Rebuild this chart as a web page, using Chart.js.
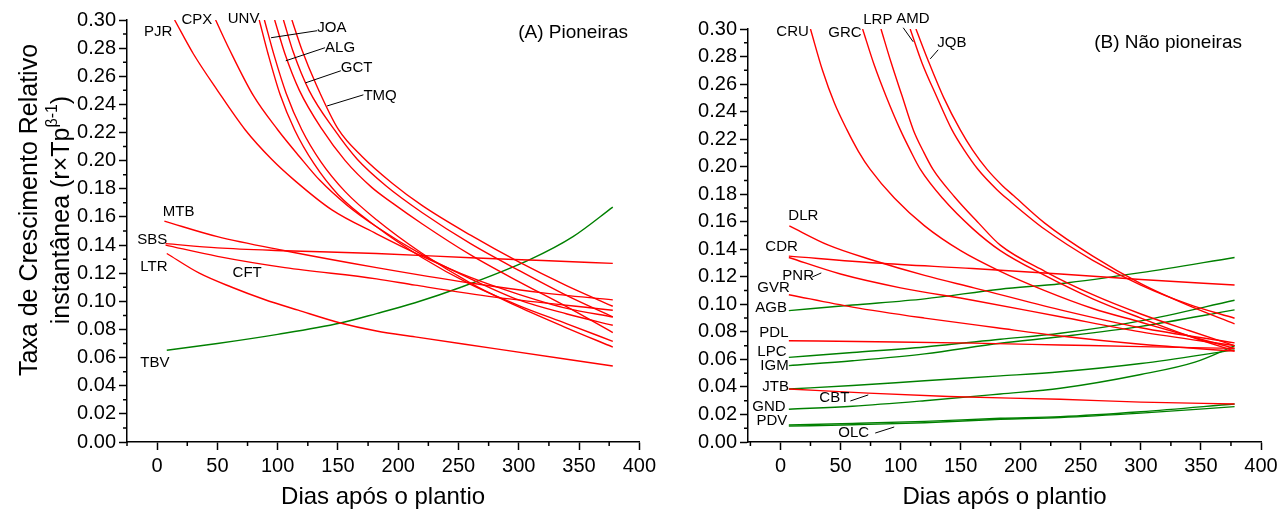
<!DOCTYPE html>
<html>
<head>
<meta charset="utf-8">
<script src="https://cdn.jsdelivr.net/npm/chart.js@4"></script>
<style>
  html, body { margin: 0; padding: 0; background: #fff; }
  #wrap { position: relative; width: 1283px; height: 516px; }
  canvas { position: absolute; top: 0; }
</style>
</head>
<body>
<div id="wrap">
  <canvas id="chartA" width="660" height="516" style="left:0"></canvas>
  <canvas id="chartB" width="623" height="516" style="left:660px"></canvas>
</div>
<script>
// ---- tick labels ----
const xTicks = [0, 50, 100, 150, 200, 250, 300, 350, 400];
const yTicks = [0, 0.02, 0.04, 0.06, 0.08, 0.10, 0.12, 0.14, 0.16, 0.18, 0.20, 0.22, 0.24, 0.26, 0.28, 0.30];

// ---- (A) Pioneiras : [dia, taxa] ----
const pjr = [[14.5, 0.30], [30, 0.276], [50, 0.250], [73, 0.222], [95, 0.201], [114, 0.186], [145, 0.165], [182, 0.148], [220, 0.132], [260, 0.117], [300, 0.105], [340, 0.095], [378, 0.0889]];
const cpx = [[48.5, 0.30], [60, 0.279], [80, 0.246], [100, 0.222], [118, 0.203], [135, 0.186], [158, 0.168], [182, 0.153], [220, 0.133], [260, 0.116], [300, 0.101], [340, 0.091], [378, 0.083]];
const unv = [[84.7, 0.30], [92, 0.276], [102, 0.247], [114, 0.222], [130, 0.198], [150, 0.176], [182, 0.153], [220, 0.131], [260, 0.112], [300, 0.097], [340, 0.084], [378, 0.0716]];
const joa = [[89, 0.30], [97, 0.275], [107, 0.248], [120, 0.222], [136, 0.199], [156, 0.178], [182, 0.158], [220, 0.134], [260, 0.113], [300, 0.096], [340, 0.081], [378, 0.0675]];
const alg = [[97.5, 0.30], [106, 0.276], [118, 0.250], [137, 0.222], [156, 0.200], [178, 0.181], [195, 0.170], [220, 0.155], [260, 0.133], [300, 0.114], [340, 0.096], [378, 0.0778]];
const gct = [[104.8, 0.30], [113, 0.277], [126, 0.250], [147, 0.222], [166, 0.201], [190, 0.182], [220, 0.163], [260, 0.141], [300, 0.122], [340, 0.104], [378, 0.0889]];
const tmq = [[111.8, 0.30], [120, 0.279], [132, 0.254], [150.5, 0.222], [170, 0.203], [195, 0.184], [220, 0.168], [260, 0.147], [300, 0.128], [340, 0.111], [378, 0.0965]];
const mtb = [[6, 0.157], [50, 0.146], [106, 0.136], [182, 0.124], [260, 0.113], [320, 0.106], [378, 0.101]];
const sbs = [[7, 0.141], [50, 0.138], [106, 0.136], [182, 0.134], [260, 0.131], [320, 0.129], [378, 0.127]];
const cft = [[7, 0.140], [50, 0.132], [106, 0.124], [182, 0.116], [214, 0.1115], [280, 0.103], [378, 0.0937]];
const ltr = [[8, 0.134], [35, 0.120], [62, 0.110], [89, 0.1013], [117, 0.0937], [152, 0.0846], [182, 0.0789], [214, 0.0747], [280, 0.0664], [378, 0.054]];
const tbv = [[8, 0.0652], [50, 0.070], [100, 0.0765], [152, 0.0846], [182, 0.0913], [214, 0.099], [252, 0.110], [310, 0.130], [345, 0.146], [378, 0.167]];

// ---- (B) Não pioneiras : [dia, taxa] ----
const cru = [[25, 0.30], [35, 0.270], [45, 0.246], [55.4, 0.2267], [65, 0.211], [74.7, 0.198], [95, 0.177], [120, 0.157], [150, 0.139], [183, 0.124], [220, 0.110], [260, 0.097], [300, 0.087], [340, 0.077], [378, 0.068]];
const grc = [[68.4, 0.30], [78, 0.274], [88, 0.251], [99.8, 0.2267], [108, 0.212], [116.5, 0.198], [135, 0.177], [160, 0.155], [183, 0.139], [220, 0.121], [260, 0.104], [300, 0.090], [340, 0.077], [378, 0.066]];
const lrp = [[83.7, 0.30], [92, 0.276], [101, 0.252], [110.6, 0.2267], [119, 0.211], [127, 0.198], [145, 0.178], [165, 0.159], [183, 0.143], [220, 0.124], [260, 0.107], [300, 0.093], [340, 0.081], [378, 0.070]];
const amd = [[108, 0.30], [118, 0.275], [130, 0.251], [142.8, 0.2267], [153, 0.212], [164, 0.1985], [180, 0.1835], [191, 0.175], [220, 0.1545], [260, 0.132], [300, 0.114], [340, 0.100], [378, 0.0899]];
const jqb = [[112.8, 0.30], [123, 0.277], [136, 0.250], [149.7, 0.2267], [160, 0.212], [172, 0.198], [185, 0.186], [194, 0.179], [220, 0.159], [260, 0.135], [300, 0.115], [340, 0.099], [378, 0.0858]];
const dlr = [[7.4, 0.157], [40, 0.143], [77, 0.132], [120, 0.121], [161, 0.112], [233, 0.096], [300, 0.083], [378, 0.072]];
const cdr = [[7, 0.135], [80, 0.130], [160, 0.126], [233, 0.122], [300, 0.118], [378, 0.114]];
const pnr = [[7, 0.134], [50, 0.122], [100, 0.112], [160, 0.103], [233, 0.091], [300, 0.080], [378, 0.070]];
const gvr = [[7, 0.107], [60, 0.098], [120, 0.090], [180, 0.083], [233, 0.077], [300, 0.071], [378, 0.066]];
const pdl = [[7, 0.0736], [80, 0.0728], [160, 0.0718], [233, 0.0705], [300, 0.0693], [378, 0.068]];
const cbt = [[7, 0.0385], [73, 0.0355], [140, 0.033], [233, 0.031], [300, 0.029], [378, 0.0276]];
const agb = [[7, 0.0954], [60, 0.0995], [120, 0.104], [183, 0.111], [233, 0.115], [300, 0.123], [378, 0.134]];
const lpc = [[7, 0.0615], [60, 0.065], [120, 0.069], [183, 0.0746], [233, 0.079], [300, 0.088], [378, 0.103]];
const igm = [[7, 0.0555], [60, 0.059], [120, 0.064], [183, 0.0717], [233, 0.0765], [300, 0.084], [378, 0.096]];
const jtb = [[7, 0.0385], [60, 0.041], [120, 0.0445], [183, 0.048], [233, 0.051], [300, 0.057], [378, 0.0669]];
const gnd = [[7, 0.0238], [60, 0.026], [120, 0.030], [183, 0.0349], [233, 0.039], [300, 0.049], [345, 0.058], [378, 0.0698]];
const pdv = [[7, 0.0124], [60, 0.0135], [120, 0.015], [183, 0.0172], [233, 0.0184], [300, 0.022], [378, 0.0276]];
const olc = [[7, 0.0115], [60, 0.0125], [120, 0.014], [183, 0.0165], [233, 0.0178], [300, 0.021], [378, 0.0257]];

const seriesA = [
  ['PJR', pjr, 'r'], ['CPX', cpx, 'r'], ['UNV', unv, 'r'], ['JOA', joa, 'r'], ['ALG', alg, 'r'],
  ['GCT', gct, 'r'], ['TMQ', tmq, 'r'], ['MTB', mtb, 'r'], ['SBS', sbs, 'r'], ['CFT', cft, 'r'],
  ['LTR', ltr, 'r'], ['TBV', tbv, 'g']
];
const seriesB = [
  ['CRU', cru, 'r'], ['GRC', grc, 'r'], ['LRP', lrp, 'r'], ['AMD', amd, 'r'], ['JQB', jqb, 'r'],
  ['DLR', dlr, 'r'], ['CDR', cdr, 'r'], ['PNR', pnr, 'r'], ['GVR', gvr, 'r'], ['PDL', pdl, 'r'],
  ['CBT', cbt, 'r'], ['AGB', agb, 'g'], ['LPC', lpc, 'g'], ['IGM', igm, 'g'], ['JTB', jtb, 'g'],
  ['GND', gnd, 'g'], ['PDV', pdv, 'g'], ['OLC', olc, 'g']
];

// curve names written on the plot: [text, day, rate, leader from [day, rate], leader to [day, rate]]
const labelsA = [
  ['PJR', -10.8, 0.2917], ['CPX', 20.2, 0.3002], ['UNV', 58.6, 0.3009],
  ['JOA', 132.8, 0.2945, [94.5, 0.2874], [132.8, 0.2924]],
  ['ALG', 139.3, 0.2803, [106.7, 0.2710], [139.3, 0.2803]],
  ['GCT', 152.4, 0.2660, [123, 0.2553], [152.4, 0.2639]],
  ['TMQ', 171.1, 0.2461, [141, 0.2389], [171.1, 0.2468]],
  ['MTB', 4.7, 0.1635], ['SBS', -16.5, 0.1435], ['LTR', -14, 0.1243], ['CFT', 62.6, 0.120], ['TBV', -14, 0.0566]
];
const labelsB = [
  ['CRU', -3.4, 0.298], ['GRC', 39.8, 0.2972], ['LRP', 68.9, 0.3067],
  ['AMD', 96.3, 0.3074, [102.2, 0.3009], [110.5, 0.2907]],
  ['JQB', 130.5, 0.290, [131.3, 0.2849], [124.7, 0.2783]],
  ['DLR', 6.6, 0.1642], ['CDR', -12.6, 0.1417],
  ['PNR', 1.6, 0.1206, [26.5, 0.1199], [34, 0.1228]],
  ['GVR', -19.2, 0.1119], ['AGB', -20.9, 0.0974], ['PDL', -17.6, 0.0792], ['LPC', -19.2, 0.0654],
  ['IGM', -16.7, 0.0552], ['JTB', -15.1, 0.040],
  ['CBT', 32.4, 0.032, [58.2, 0.0298], [73.1, 0.0342]],
  ['GND', -23.4, 0.0254], ['PDV', -20, 0.0153],
  ['OLC', 48.2, 0.0065, [78.9, 0.0065], [94.7, 0.0109]]
];

const RED = '#ff0000';
const GREEN = '#008000';
const FONT = "'Liberation Sans', Arial, sans-serif";

function makeDatasets(list) {
  return list.map(([name, pts, c]) => ({
    label: name,
    data: pts.map(([x, y]) => ({ x, y })),
    borderColor: c === 'g' ? GREEN : RED,
    borderWidth: 1.4,
    pointRadius: 0,
    fill: false,
    cubicInterpolationMode: 'monotone'
  }));
}

// minor ticks, curve labels, leaders, y title and panel title
const decorPlugin = {
  id: 'decor',
  afterDraw(chart, args, opts) {
    const { ctx } = chart;
    const xs = chart.scales.x, ys = chart.scales.y;
    const area = chart.chartArea;
    ctx.save();
    ctx.strokeStyle = '#000';
    ctx.lineWidth = 1.5;
    ctx.beginPath();
    for (let v = -25; v <= 400; v += 50) {
      const px = xs.getPixelForValue(v);
      if (px < area.left - 0.5) continue;
      ctx.moveTo(px, area.bottom);
      ctx.lineTo(px, area.bottom + 4);
    }
    for (let v = 0.01; v < 0.3; v += 0.02) {
      const py = ys.getPixelForValue(v);
      ctx.moveTo(area.left, py);
      ctx.lineTo(area.left - 4, py);
    }
    ctx.stroke();

    ctx.fillStyle = '#000';
    ctx.font = '15px ' + FONT;
    ctx.textBaseline = 'middle';
    ctx.textAlign = 'left';
    ctx.lineWidth = 1;
    for (const [txt, d, r, from, to] of opts.labels) {
      ctx.fillText(txt, xs.getPixelForValue(d), ys.getPixelForValue(r));
      if (from) {
        ctx.beginPath();
        ctx.moveTo(xs.getPixelForValue(from[0]), ys.getPixelForValue(from[1]));
        ctx.lineTo(xs.getPixelForValue(to[0]), ys.getPixelForValue(to[1]));
        ctx.stroke();
      }
    }

    ctx.font = '19px ' + FONT;
    ctx.textAlign = 'right';
    ctx.fillText(opts.title, opts.titleX, opts.titleY);

    if (opts.yTitle) {
      ctx.save();
      ctx.translate(30, 210);
      ctx.rotate(-Math.PI / 2);
      ctx.textAlign = 'center';
      ctx.font = '25px ' + FONT;
      ctx.fillText('Taxa de Crescimento Relativo', 0, 0);
      ctx.restore();

      ctx.save();
      ctx.translate(62, 210);
      ctx.rotate(-Math.PI / 2);
      ctx.textAlign = 'left';
      const main = 'instantânea (r×Tp';
      const sup = 'β-1';
      ctx.font = '25px ' + FONT;
      const w1 = ctx.measureText(main).width;
      ctx.font = '16px ' + FONT;
      const w2 = ctx.measureText(sup).width;
      ctx.font = '25px ' + FONT;
      const w3 = ctx.measureText(')').width;
      const x0 = -(w1 + w2 + w3) / 2;
      ctx.fillText(main, x0, 0);
      ctx.font = '16px ' + FONT;
      ctx.fillText(sup, x0 + w1, -9);
      ctx.font = '25px ' + FONT;
      ctx.fillText(')', x0 + w1 + w2, 0);
      ctx.restore();
    }
    ctx.restore();
  }
};

function makeChart(id, list, labels, yWidth, pad, xMin, title, titleX, titleY, yTitle) {
  return new Chart(document.getElementById(id), {
    type: 'line',
    data: { datasets: makeDatasets(list) },
    options: {
      responsive: false,
      animation: false,
      events: [],
      layout: { padding: pad },
      plugins: {
        legend: { display: false },
        tooltip: { enabled: false },
        decor: { labels, title, titleX, titleY, yTitle }
      },
      scales: {
        x: {
          type: 'linear',
          min: xMin,
          max: 400,
          afterBuildTicks: s => { s.ticks = xTicks.map(v => ({ value: v })); },
          afterFit: s => { s.height = 74; },
          border: { display: true, color: '#000', width: 1.5 },
          grid: { drawOnChartArea: false, drawTicks: true, tickLength: 8, color: '#000', tickWidth: 1.5 },
          ticks: { color: '#000', font: { family: FONT, size: 20 }, padding: 4, maxRotation: 0 },
          title: { display: true, text: 'Dias após o plantio', color: '#000', font: { family: FONT, size: 24 }, padding: { top: 4 } }
        },
        y: {
          type: 'linear',
          min: 0,
          max: 0.30,
          afterBuildTicks: s => { s.ticks = yTicks.map(v => ({ value: v })); },
          afterFit: s => { s.width = yWidth; },
          border: { display: true, color: '#000', width: 1.5 },
          grid: { drawOnChartArea: false, drawTicks: true, tickLength: 8, color: '#000', tickWidth: 1.5 },
          ticks: { color: '#000', font: { family: FONT, size: 20 }, padding: 3, callback: v => v.toFixed(2) }
        }
      }
    },
    plugins: [decorPlugin]
  });
}

makeChart('chartA', seriesA, labelsA, 127, { top: 20, right: 13, left: 0, bottom: 0 }, -25,
  '(A) Pioneiras', 628, 33, true);
makeChart('chartB', seriesB, labelsB, 88, { top: 29, right: 22, left: 0, bottom: 0 }, -27,
  '(B) Não pioneiras', 582, 43, false);
</script>
</body>
</html>
